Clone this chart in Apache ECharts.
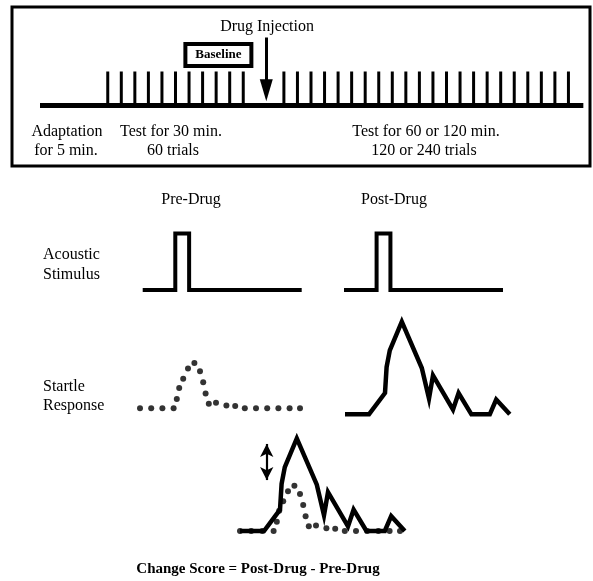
<!DOCTYPE html>
<html>
<head>
<meta charset="utf-8">
<script src="https://cdn.jsdelivr.net/npm/echarts@6/dist/echarts.min.js"></script>
<style>
  body { margin: 0; background: #fff; }
  #chart { width: 593px; height: 581px; }
</style>
</head>
<body>
<div id="chart"></div>
<script>
// timeline of the session (in trial slots)
const timelineExtent = [-5, 35.1];
const preTrials = [0, 1, 2, 3, 4, 5, 6, 7, 8, 9, 10];
const postTrials = [13, 14, 15, 16, 17, 18, 19, 20, 21, 22, 23, 24, 25, 26, 27, 28, 29, 30, 31, 32, 33, 34];
const baselineTrials = [5.73, 10.6];
const injectionTrial = 11.7;

// acoustic stimulus (same for pre and post)
const stimTime = [0, 20.5, 20.5, 29.2, 29.2, 100];
const stimLevel = [0, 0, 1, 1, 0, 0];

// startle responses
const preTime = [0, 7, 14, 21, 23, 24.5, 27, 30, 34, 37.5, 39.5, 41, 43, 47.5, 54, 59.5, 65.5, 72.5, 79.5, 86.5, 93.5, 100];
const preAmp = [0, 0, 0, 0, 10, 22, 32, 43, 49, 40, 28, 16, 5, 6, 3, 2.5, 0, 0, 0, 0, 0, 0];
const postTime = [0, 15, 25, 26, 28, 35.5, 48, 52.5, 55, 67.5, 71, 79, 90.5, 94.5, 103];
const postAmp = [0, 0, 23, 51, 69, 100, 50, 17, 42, 5, 23, 0, 0, 16, 0];

const FONT = "'Liberation Serif', 'Times New Roman', serif";
const zip = (a, b) => a.map((v, i) => [v, b[i]]);

const chart = echarts.init(document.getElementById('chart'));

const grids = [
  {left: 40, top: 37.5, width: 544.7, height: 68},      // timeline
  {left: 142.7, top: 233.5, width: 159, height: 56.5},  // pre stimulus
  {left: 344, top: 233.5, width: 159, height: 56.5},    // post stimulus
  {left: 140, top: 315.7, width: 168, height: 92.6},    // pre response
  {left: 345, top: 321.7, width: 168, height: 92.6},    // post response
  {left: 240, top: 438.4, width: 168, height: 92.6}     // overlay
];
const xr = [[-5, 35.2], [0, 100], [0, 100], [0, 105], [0, 105], [0, 105]];
const yr = [[0, 2], [0, 1], [0, 1], [0, 100], [0, 100], [0, 100]];

function txt(text, x, y, opts) {
  opts = opts || {};
  return {
    type: 'text', x: x, y: y, z: 10,
    style: {
      text: text, fill: '#000',
      font: (opts.bold ? 'bold ' : '') + (opts.size || 16) + 'px ' + FONT,
      align: opts.align || 'center', textAlign: opts.align || 'center',
      verticalAlign: 'middle', textVerticalAlign: 'middle'
    }
  };
}

const lineBase = {type: 'line', symbol: 'none', clip: false, silent: true};
const tickData = preTrials.concat(postTrials).map(t => [t, 1]);
const preMax = Math.max.apply(null, preAmp);
const postMax = Math.max.apply(null, postAmp);

chart.setOption({
  animation: false,
  backgroundColor: '#fff',
  grid: grids,
  xAxis: grids.map((g, i) => ({type: 'value', gridIndex: i, min: xr[i][0], max: xr[i][1], show: false})),
  yAxis: grids.map((g, i) => ({type: 'value', gridIndex: i, min: yr[i][0], max: yr[i][1], show: false})),
  series: [
    // session baseline + injection arrow + baseline window
    Object.assign({}, lineBase, {
      xAxisIndex: 0, yAxisIndex: 0,
      data: [[timelineExtent[0], 0], [timelineExtent[1], 0]],
      lineStyle: {color: '#000', width: 5, cap: 'butt'},
      markLine: {
        silent: true, symbol: ['none', 'triangle'], symbolSize: [13, 22],
        label: {show: false},
        lineStyle: {color: '#000', width: 3, type: 'solid'},
        data: [[{coord: [injectionTrial, 2]}, {coord: [injectionTrial, 0.45]}]]
      },
      markArea: {
        silent: true,
        itemStyle: {color: '#fff', borderColor: '#000', borderWidth: 4},
        label: {show: true, position: 'inside', formatter: 'Baseline', color: '#000',
                fontFamily: FONT, fontWeight: 'bold', fontSize: 13},
        data: [[{coord: [baselineTrials[0], 1.16]}, {coord: [baselineTrials[1], 1.81]}]]
      }
    }),
    {
      type: 'bar', xAxisIndex: 0, yAxisIndex: 0, silent: true,
      barWidth: 3, data: tickData, itemStyle: {color: '#000'}
    },
    // acoustic stimuli
    Object.assign({}, lineBase, {
      xAxisIndex: 1, yAxisIndex: 1, data: zip(stimTime, stimLevel),
      lineStyle: {color: '#000', width: 4, join: 'miter', cap: 'butt'}
    }),
    Object.assign({}, lineBase, {
      xAxisIndex: 2, yAxisIndex: 2, data: zip(stimTime, stimLevel),
      lineStyle: {color: '#000', width: 4, join: 'miter', cap: 'butt'}
    }),
    // pre-drug response (dotted)
    {
      type: 'scatter', xAxisIndex: 3, yAxisIndex: 3, clip: false, silent: true,
      symbolSize: 6, data: zip(preTime, preAmp), itemStyle: {color: '#000'}
    },
    // post-drug response
    Object.assign({}, lineBase, {
      xAxisIndex: 4, yAxisIndex: 4, data: zip(postTime, postAmp),
      lineStyle: {color: '#000', width: 4.5, join: 'miter'}
    }),
    // overlay
    Object.assign({}, lineBase, {
      xAxisIndex: 5, yAxisIndex: 5, data: zip(postTime, postAmp),
      lineStyle: {color: '#000', width: 4.5, join: 'miter'},
      markLine: {
        silent: true, symbol: ['arrow', 'arrow'], symbolSize: [10, 13],
        label: {show: false},
        lineStyle: {color: '#000', width: 2.2, type: 'solid'},
        data: [[{coord: [16.7, preMax + 6]}, {coord: [16.7, postMax - 6]}]]
      }
    }),
    {
      type: 'scatter', xAxisIndex: 5, yAxisIndex: 5, clip: false, silent: true, z: 3,
      symbolSize: 6, data: zip(preTime, preAmp), itemStyle: {color: '#000'}
    }
  ],
  graphic: [
    {type: 'rect', z: 10, shape: {x: 12, y: 7, width: 578, height: 159},
     style: {fill: 'transparent', stroke: '#000', lineWidth: 3}},
    txt('Drug Injection', 267, 27),
    txt('Adaptation', 67, 132),
    txt('for 5 min.', 66, 151),
    txt('Test for 30 min.', 171, 132),
    txt('60 trials', 173, 151),
    txt('Test for 60 or 120 min.', 426, 132),
    txt('120 or 240 trials', 424, 151),
    txt('Pre-Drug', 191, 200),
    txt('Post-Drug', 394, 200),
    txt('Acoustic', 43, 255, {align: 'left'}),
    txt('Stimulus', 43, 275, {align: 'left'}),
    txt('Startle', 43, 387, {align: 'left'}),
    txt('Response', 43, 406, {align: 'left'}),
    txt('Change Score = Post-Drug - Pre-Drug', 258, 569, {bold: true, size: 15})
  ]
});
</script>
</body>
</html>
